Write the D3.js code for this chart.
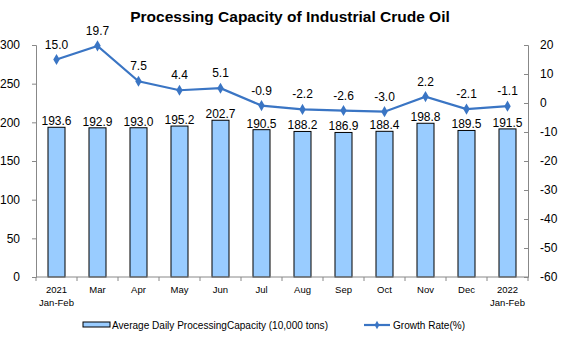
<!DOCTYPE html>
<html><head><meta charset="utf-8">
<script src="https://cdn.jsdelivr.net/npm/d3@7/dist/d3.min.js"></script>
<style>
body{margin:0;background:#fff;}
svg{display:block;font-family:"Liberation Sans",Arial,sans-serif;}
</style></head>
<body><svg id="c" width="561" height="358"></svg>
<script>
const categories = ["2021\nJan-Feb","Mar","Apr","May","Jun","Jul","Aug","Sep","Oct","Nov","Dec","2022\nJan-Feb"];
const capacity = [193.6,192.9,193.0,195.2,202.7,190.5,188.2,186.9,188.4,198.8,189.5,191.5];
const growth = [15.0,19.7,7.5,4.4,5.1,-0.9,-2.2,-2.6,-3.0,2.2,-2.1,-1.1];
const leftTicks = [0,50,100,150,200,250,300];
const rightTicks = [20,10,0,-10,-20,-30,-40,-50,-60];

const svg = d3.select("#c");
const x0 = 36, x1 = 528, yTop = 45, yBot = 277;
const x = d3.scaleBand().domain(categories).range([x0,x1]).paddingInner(0.585).paddingOuter(0.2925);
const step = x.step();
const yL = d3.scaleLinear().domain([0,300]).range([yBot,yTop]);
const yR = d3.scaleLinear().domain([-60,20]).range([yBot,yTop]);

// title
svg.append("text").attr("x",290).attr("y",22).attr("text-anchor","middle")
  .attr("font-size",15.5).attr("font-weight","bold").text("Processing Capacity of Industrial  Crude Oil");

// bars
svg.selectAll("rect.bar").data(capacity).join("rect").attr("class","bar")
  .attr("x",(d,i)=>x(categories[i])).attr("width",x.bandwidth())
  .attr("y",d=>yL(d)).attr("height",d=>yBot-yL(d))
  .attr("fill","#99ccff").attr("stroke","#000").attr("stroke-width",1);

// bar labels
svg.selectAll("text.bl").data(capacity).join("text").attr("class","bl")
  .attr("x",(d,i)=>x(categories[i])+x.bandwidth()/2).attr("y",d=>yL(d)-2)
  .attr("text-anchor","middle").attr("font-size",12).text(d=>d.toFixed(1));

// left axis
const gL = svg.append("g").attr("transform",`translate(${x0},0)`)
  .call(d3.axisLeft(yL).tickValues(leftTicks).tickFormat(d=>String(d)).tickSize(4).tickPadding(12));
gL.select(".domain").attr("stroke","#888");
gL.selectAll(".tick line").attr("stroke","#888");
gL.selectAll("text").attr("font-size",12).attr("font-family","Liberation Sans, Arial").attr("fill","#000");

// right axis
const gR = svg.append("g").attr("transform",`translate(${x1},0)`)
  .call(d3.axisRight(yR).tickValues(rightTicks).tickFormat(d=>String(d)).tickSize(-4).tickPadding(12));
gR.select(".domain").attr("stroke","#888");
gR.selectAll(".tick line").attr("stroke","#888");
gR.selectAll("text").attr("font-size",12).attr("font-family","Liberation Sans, Arial").attr("fill","#000");

// bottom axis
svg.append("line").attr("x1",x0).attr("x2",x1).attr("y1",yBot).attr("y2",yBot).attr("stroke","#888");
svg.selectAll("line.xt").data(d3.range(categories.length+1)).join("line").attr("class","xt")
  .attr("x1",i=>x0+i*step).attr("x2",i=>x0+i*step).attr("y1",yBot).attr("y2",yBot+4).attr("stroke","#888");
const xl = svg.selectAll("text.xl").data(categories).join("text").attr("class","xl")
  .attr("x",d=>x(d)+x.bandwidth()/2).attr("y",293).attr("text-anchor","middle").attr("font-size",9.5);
xl.each(function(d){
  const parts = d.split("\n");
  const t = d3.select(this);
  parts.forEach((p,k)=>t.append("tspan").attr("x",x(d)+x.bandwidth()/2).attr("dy",k?13:0).text(p));
});

// line
const lineColor = "#3a75c4";
const line = d3.line().x((d,i)=>x(categories[i])+x.bandwidth()/2).y(d=>yR(d));
svg.append("path").datum(growth).attr("d",line).attr("fill","none").attr("stroke",lineColor).attr("stroke-width",2.2);
svg.selectAll("path.mk").data(growth).join("path").attr("class","mk")
  .attr("d",d3.symbol(d3.symbolDiamond,36))
  .attr("transform",(d,i)=>`translate(${x(categories[i])+x.bandwidth()/2},${yR(d)})`)
  .attr("fill",lineColor);
svg.selectAll("text.gl").data(growth).join("text").attr("class","gl")
  .attr("x",(d,i)=>x(categories[i])+x.bandwidth()/2).attr("y",d=>yR(d)-11)
  .attr("text-anchor","middle").attr("font-size",12).text(d=>d.toFixed(1));

// legend
const lg = svg.append("g");
lg.append("rect").attr("x",83).attr("y",322).attr("width",27).attr("height",5).attr("fill","#99ccff").attr("stroke","#000");
lg.append("text").attr("x",112).attr("y",329).attr("font-size",10).attr("textLength",216).attr("lengthAdjust","spacingAndGlyphs")
  .text("Average Daily ProcessingCapacity (10,000 tons)");
lg.append("line").attr("x1",364).attr("x2",390).attr("y1",325).attr("y2",325).attr("stroke",lineColor).attr("stroke-width",2.2);
lg.append("path").attr("d",d3.symbol(d3.symbolDiamond,20)).attr("transform","translate(377,325)").attr("fill",lineColor);
lg.append("text").attr("x",393).attr("y",329).attr("font-size",10).attr("textLength",72).attr("lengthAdjust","spacingAndGlyphs")
  .text("Growth Rate(%)");
</script></body></html>
